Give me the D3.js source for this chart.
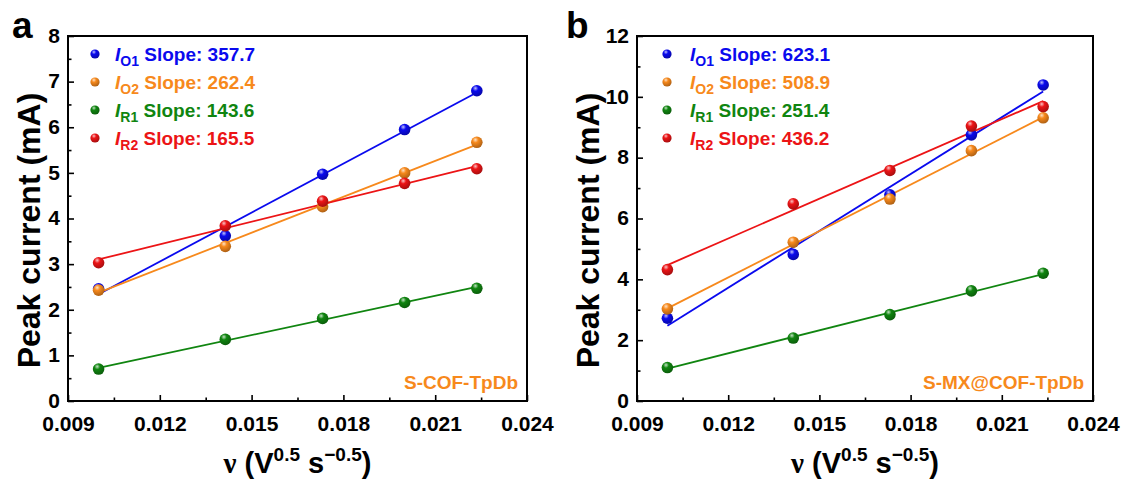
<!DOCTYPE html>
<html>
<head>
<meta charset="utf-8">
<script src="https://cdn.jsdelivr.net/npm/d3@7"></script>
<style>
  html, body { margin: 0; padding: 0; background: #fff; }
  svg { display: block; font-family: "Liberation Sans", Arial, sans-serif; }
</style>
</head>
<body>
<svg id="chart" width="1123" height="479"></svg>
<script>
// Scan rate square roots (x values, V^0.5 s^-0.5)
const nu = [0.01, 0.01414, 0.01732, 0.02, 0.02236];

// Series identifiers, subscripts and colours
const seriesKeys = ["O1", "O2", "R1", "R2"];
const seriesColors = ["#0a0aee", "#f7891c", "#108510", "#ec1416"];

// Panel a: S-COF-TpDb peak currents (mA)
const aIO1 = [2.46, 3.62, 4.97, 5.95, 6.80];
const aIO2 = [2.43, 3.39, 4.26, 5.00, 5.67];
const aIR1 = [0.70, 1.35, 1.81, 2.16, 2.47];
const aIR2 = [3.03, 3.84, 4.38, 4.77, 5.09];
const aSlopes = [357.7, 262.4, 143.6, 165.5];

// Panel b: S-MX@COF-TpDb peak currents (mA)
const bIO1 = [2.72, 4.82, 6.78, 8.75, 10.39];
const bIO2 = [3.03, 5.22, 6.64, 8.23, 9.31];
const bIR1 = [1.10, 2.07, 2.84, 3.62, 4.20];
const bIR2 = [4.32, 6.48, 7.58, 9.04, 9.68];
const bSlopes = [623.1, 508.9, 251.4, 436.2];

// Axis ticks
const xTicks = [0.009, 0.012, 0.015, 0.018, 0.021, 0.024];
const aYTicks = [0, 1, 2, 3, 4, 5, 6, 7, 8];
const bYTicks = [0, 2, 4, 6, 8, 10, 12];

const svg = d3.select("#chart");
const defs = svg.append("defs");

// Shaded sphere fill for each series colour
seriesColors.forEach((c, i) => {
  const g = defs.append("radialGradient")
    .attr("id", "ball" + i)
    .attr("cx", "38%").attr("cy", "32%").attr("r", "70%")
    .attr("fx", "38%").attr("fy", "28%");
  g.append("stop").attr("offset", "0%").attr("stop-color", d3.interpolateRgb(c, "#ffffff")(0.75));
  g.append("stop").attr("offset", "35%").attr("stop-color", c);
  g.append("stop").attr("offset", "100%").attr("stop-color", d3.interpolateRgb(c, "#000000")(0.3));
});

function drawPanel(opt) {
  const { left, right, top, bottom } = opt.box;
  const x = d3.scaleLinear().domain([0.009, 0.024]).range([left, right]);
  const y = d3.scaleLinear().domain([0, opt.yMax]).range([bottom, top]);
  const g = svg.append("g");

  // x axis: inward major and minor ticks
  const xMinor = d3.range(0.0105, 0.024, 0.003);
  const xAxis = g.append("g").attr("transform", `translate(0,${bottom})`);
  xAxis.call(d3.axisBottom(x).tickValues(xTicks).tickFormat(d3.format(".3f")).tickSizeInner(-6).tickSizeOuter(0).tickPadding(15.5));
  xAxis.append("g").call(d3.axisBottom(x).tickValues(xMinor).tickFormat("").tickSizeInner(-3.5).tickSizeOuter(0))
    .select(".domain").remove();

  const yAxis = g.append("g").attr("transform", `translate(${left},0)`);
  yAxis.call(d3.axisLeft(y).tickValues(opt.yTicks).tickSizeInner(-6).tickSizeOuter(0).tickPadding(8));
  yAxis.append("g").call(d3.axisLeft(y).tickValues(opt.yMinor).tickFormat("").tickSizeInner(-3.5).tickSizeOuter(0))
    .select(".domain").remove();
  yAxis.selectAll(".tick text").attr("dy", "0.3em");

  g.selectAll(".tick line").attr("stroke", "#000").attr("stroke-width", 1.6);
  g.selectAll(".tick text").attr("fill", "#000").style("font-size", "21px").style("font-weight", "bold")
    .style("font-family", "'Liberation Sans', Arial, sans-serif");
  g.selectAll(".domain").attr("stroke", "none");

  // Plot frame
  g.append("rect").attr("x", left).attr("y", top).attr("width", right - left).attr("height", bottom - top)
    .attr("fill", "none").attr("stroke", "#000").attr("stroke-width", 2);

  // Fit lines from stated slopes through each series' centroid
  const mx = d3.mean(nu);
  opt.series.forEach((vals, i) => {
    const k = opt.slopes[i];
    const b0 = d3.mean(vals) - k * mx;
    const ends = [nu[0], nu[nu.length - 1]];
    g.append("path")
      .datum(ends)
      .attr("d", d3.line().x(d => x(d)).y(d => y(b0 + k * d)))
      .attr("stroke", seriesColors[i]).attr("stroke-width", 1.8).attr("fill", "none");
  });

  // Data points
  opt.series.forEach((vals, i) => {
    g.selectAll(null).data(vals).enter().append("circle")
      .attr("cx", (d, j) => x(nu[j])).attr("cy", d => y(d)).attr("r", 5.8)
      .attr("fill", `url(#ball${i})`);
  });

  // Legend
  const legY = [54, 82, 110, 138];
  seriesKeys.forEach((key, i) => {
    g.append("circle").attr("cx", left + opt.legMarker).attr("cy", legY[i]).attr("r", 4.6)
      .attr("fill", `url(#ball${i})`);
    const t = g.append("text").attr("x", left + opt.legText).attr("y", legY[i] + 7)
      .attr("fill", seriesColors[i]).style("font-size", "19px").style("font-weight", "bold");
    t.append("tspan").style("font-style", "italic").text("I");
    t.append("tspan").attr("dy", 5).style("font-size", "14px").text(key);
    t.append("tspan").attr("dy", -5).text(" Slope: " + opt.slopes[i].toFixed(1));
  });

  // Sample name
  g.append("text").attr("x", right - 9).attr("y", bottom - 12).attr("text-anchor", "end")
    .attr("fill", "#f7891c").style("font-size", "19px").style("font-weight", "bold").text(opt.sample);

  // Axis titles
  g.append("text")
    .attr("transform", `translate(${opt.yTitleX},${(top + bottom) / 2 + 12}) rotate(-90)`)
    .attr("text-anchor", "middle").style("font-size", "32px").style("font-weight", "bold")
    .text("Peak current (mA)");

  const xt = g.append("text").attr("x", (left + right) / 2).attr("y", 473).attr("text-anchor", "middle")
    .style("font-size", "29px").style("font-weight", "bold");
  xt.append("tspan").style("font-family", "'Liberation Serif', 'Times New Roman', serif").text("ν");
  xt.append("tspan").text(" (V");
  xt.append("tspan").attr("dy", -12).style("font-size", "19px").text("0.5");
  xt.append("tspan").attr("dy", 12).text(" s");
  xt.append("tspan").attr("dy", -12).style("font-size", "19px").text("\u22120.5");
  xt.append("tspan").attr("dy", 12).text(")");

  // Panel letter
  svg.append("text").attr("x", opt.letterX).attr("y", 38).style("font-size", "37px").style("font-weight", "bold")
    .text(opt.letter);
}

drawPanel({
  box: { left: 68, right: 527, top: 36, bottom: 401 },
  yMax: 8, yTicks: aYTicks, yMinor: d3.range(0.5, 8, 1),
  series: [aIO1, aIO2, aIR1, aIR2], slopes: aSlopes,
  sample: "S-COF-TpDb", letter: "a", letterX: 12, yTitleX: 40,
  legMarker: 27, legText: 47
});

drawPanel({
  box: { left: 637, right: 1093, top: 36, bottom: 401 },
  yMax: 12, yTicks: bYTicks, yMinor: d3.range(1, 12, 2),
  series: [bIO1, bIO2, bIR1, bIR2], slopes: bSlopes,
  sample: "S-MX@COF-TpDb", letter: "b", letterX: 566, yTitleX: 599,
  legMarker: 30, legText: 53
});
</script>
</body>
</html>
